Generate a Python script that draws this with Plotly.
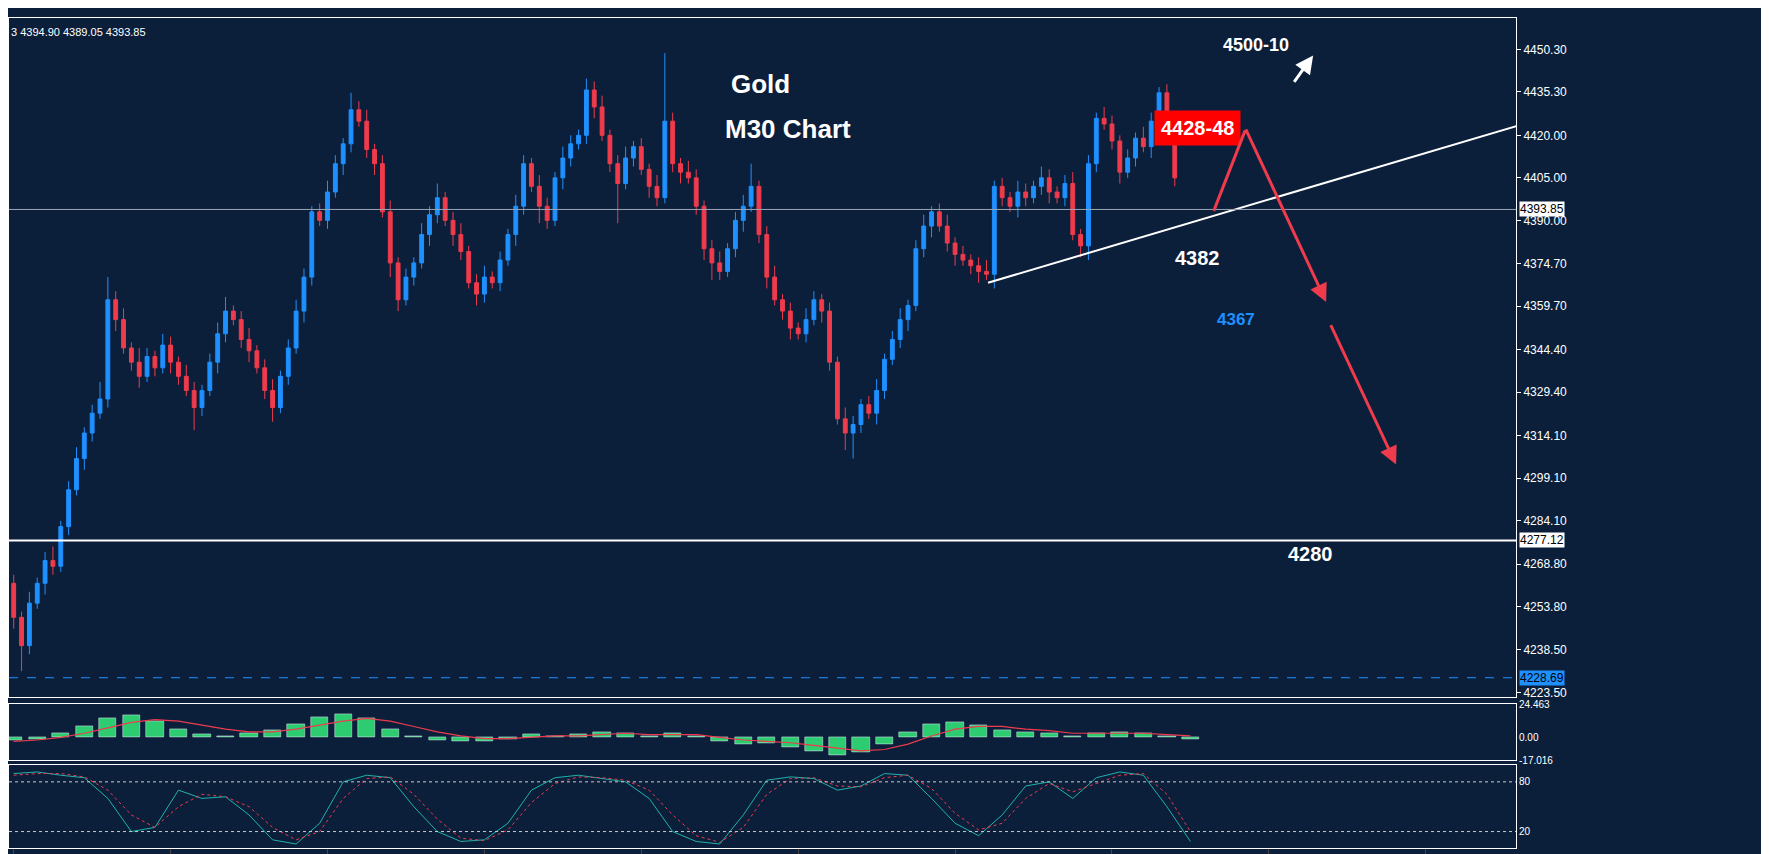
import plotly.graph_objects as go

# price data (M30 candles)
closes = [4250, 4240, 4255, 4262, 4270, 4268, 4282, 4295, 4306, 4315, 4322, 4327, 4362, 4355, 4345, 4340,
          4335, 4342, 4338, 4346, 4340, 4335, 4330, 4324, 4330, 4340, 4350, 4358, 4355, 4348, 4344, 4338,
          4330, 4324, 4335, 4345, 4358, 4370, 4393, 4390, 4400, 4410, 4417, 4429, 4425, 4415, 4410, 4393,
          4375, 4362, 4370, 4375, 4385, 4392, 4398, 4390, 4385, 4379, 4368, 4364, 4370, 4368, 4376, 4385,
          4395, 4410, 4402, 4395, 4390, 4405, 4412, 4417, 4420, 4436, 4430, 4420, 4410, 4403, 4412, 4416,
          4408, 4402, 4398, 4425, 4410, 4407, 4405, 4395, 4380, 4375, 4372, 4380, 4390, 4395, 4402, 4385,
          4370, 4362, 4358, 4352, 4350, 4355, 4362, 4358, 4340, 4320, 4315, 4318, 4325, 4322, 4330, 4341,
          4348, 4355, 4360, 4380, 4388, 4393, 4388, 4382, 4378, 4376, 4374, 4372, 4371, 4402, 4398, 4395,
          4400, 4398, 4402, 4405, 4400, 4398, 4403, 4385, 4381, 4410, 4426, 4424, 4418, 4407, 4412, 4419,
          4416, 4425, 4435, 4420, 4405, 4395, 4393.85]
first_open = 4262
wick_up = [3, 2, 4, 2, 3, 5, 2, 3, 4, 2, 3, 6, 8, 3, 4, 2, 5, 3, 2, 4, 3, 2, 4, 3, 2, 3, 4, 5, 2, 3, 4, 2,
           3, 4, 2, 3, 4, 3, 2, 3, 4, 3, 2, 6, 3, 4, 2, 3, 4, 2, 3, 2, 4, 3, 5, 2, 3, 4, 2, 3, 4, 2,
           3, 2, 4, 3, 2, 4, 3, 2, 4, 3, 2, 4, 3, 4, 2, 3, 4, 2, 3, 2, 4, 24, 3, 2, 4, 3, 2, 3, 4, 2,
           3, 4, 8, 2, 3, 4, 2, 3, 2, 4, 3, 2, 3, 2, 4, 3, 2, 3, 4, 2, 3, 4, 2, 3, 4, 2, 3, 4, 2, 3,
           2, 3, 4, 2, 3, 2, 4, 3, 2, 4, 3, 2, 3, 4, 2, 3, 2, 4, 3, 2, 3, 2, 4, 3, 2, 3, 2]
wick_dn = [4, 9, 3, 2, 4, 3, 2, 3, 2, 4, 3, 2, 3, 4, 2, 3, 4, 2, 3, 2, 4, 3, 2, 8, 3, 2, 4, 3, 2, 3, 4, 2,
           3, 5, 2, 3, 2, 4, 3, 2, 3, 2, 4, 3, 2, 3, 4, 2, 5, 4, 2, 3, 2, 4, 3, 2, 4, 3, 2, 4, 3, 2,
           3, 2, 4, 3, 2, 6, 3, 2, 4, 3, 2, 3, 4, 2, 3, 14, 2, 3, 2, 4, 3, 2, 3, 4, 2, 3, 4, 6, 3, 2,
           3, 4, 2, 3, 4, 2, 3, 4, 2, 3, 2, 4, 3, 2, 6, 9, 3, 2, 4, 3, 2, 3, 4, 2, 3, 4, 2, 3, 4, 2,
           3, 4, 2, 5, 3, 2, 4, 3, 2, 3, 4, 2, 3, 2, 4, 5, 3, 2, 3, 4, 2, 3, 2, 4, 3, 2, 3, 2, 4, 3, 2]

price_ticks = [4450.30, 4435.30, 4420.00, 4405.00, 4390.00, 4374.70, 4359.70, 4344.40, 4329.40,
               4314.10, 4299.10, 4284.10, 4268.80, 4253.80, 4238.50, 4223.50]
last_price = 4393.85
support_price = 4277.12
low_price = 4228.69
trend_x = [124.2, 192.1]
trend_y = [4368, 4423.7]

# indicators, one value every 3 candles
ind_x = list(range(0, 151, 3))
macd_hist = [-2, -1, 3, 8, 14, 16, 12, 6, 2, 1, 3, 5, 10, 15, 17, 14, 6, 1, -2, -3, -3, -1, 2, 1, 2, 4,
             3, 1, 3, 1, -3, -5, -4, -7, -10, -13, -11, -5, 4, 10, 11, 9, 5, 4, 3, 1, 3, 4, 3, 1, -1]
macd_signal = [-3, -2, 0, 3, 7, 11, 13, 12, 9, 6, 4, 4, 6, 9, 12, 14, 12, 8, 4, 1, -1, -1, 0, 1, 1, 2,
               3, 2, 2, 2, 0, -2, -3, -4, -6, -8, -10, -9, -5, 1, 6, 8, 8, 6, 5, 3, 3, 3, 3, 2, 1]
stoch_k = [90, 92, 88, 85, 60, 20, 25, 70, 60, 62, 40, 10, 5, 30, 80, 88, 85, 50, 20, 8, 10, 30, 70, 85,
           88, 84, 80, 60, 20, 8, 5, 40, 82, 86, 84, 70, 75, 90, 88, 60, 30, 15, 40, 75, 80, 60, 85, 92,
           88, 50, 8]
stoch_d = [88, 90, 90, 86, 70, 40, 25, 50, 65, 62, 50, 25, 10, 20, 60, 84, 86, 65, 35, 12, 9, 22, 55, 78,
           86, 85, 82, 70, 40, 15, 7, 25, 65, 84, 85, 75, 74, 85, 88, 72, 42, 22, 30, 60, 78, 68, 78, 88,
           90, 65, 20]

opens = [first_open] + closes[:-1]
highs = [max(o, c) + w for o, c, w in zip(opens, closes, wick_up)]
lows = [min(o, c) - w for o, c, w in zip(opens, closes, wick_dn)]
idx = list(range(len(closes)))

BG = "#0b1f3b"
BLUE = "#1e90ff"
RED = "#ef3b4c"
W = 1508.0
H = 854.0

def px(x):
    return x / W

def py(y):
    return 1 - y / H

fig = go.Figure()
fig.add_trace(go.Candlestick(
    x=idx, open=opens, high=highs, low=lows, close=closes,
    increasing=dict(line=dict(color=BLUE, width=1), fillcolor=BLUE),
    decreasing=dict(line=dict(color=RED, width=1), fillcolor=RED),
    whiskerwidth=0, showlegend=False, xaxis="x", yaxis="y"))
fig.add_trace(go.Scatter(x=trend_x, y=trend_y, mode="lines", line=dict(color="white", width=2),
                         showlegend=False, xaxis="x", yaxis="y"))

fig.add_trace(go.Bar(x=ind_x, y=macd_hist, marker_color="#2ecc71", width=2.2, showlegend=False,
                     xaxis="x2", yaxis="y2"))
fig.add_trace(go.Scatter(x=ind_x, y=macd_signal, mode="lines", line=dict(color=RED, width=1.2),
                         showlegend=False, xaxis="x2", yaxis="y2"))
fig.add_trace(go.Scatter(x=ind_x, y=stoch_k, mode="lines", line=dict(color="#20b2aa", width=1),
                         showlegend=False, xaxis="x3", yaxis="y3"))
fig.add_trace(go.Scatter(x=ind_x, y=stoch_d, mode="lines", line=dict(color=RED, width=1, dash="dot"),
                         showlegend=False, xaxis="x3", yaxis="y3"))

xr = [-0.6, 191.5]
axis_common = dict(showgrid=False, zeroline=False, showline=True, mirror=True, linecolor="white",
                   linewidth=1)
tf = dict(color="white", size=12, family="Liberation Sans")
tf_small = dict(color="white", size=10, family="Liberation Sans")
fig.update_layout(
    width=1769, height=854,
    margin=dict(l=0, r=261, t=0, b=0),
    paper_bgcolor=BG, plot_bgcolor=BG,
    font=dict(family="Liberation Sans", color="white"),
    bargap=0,
    xaxis=dict(range=xr, showticklabels=False, rangeslider=dict(visible=False), anchor="y", **axis_common),
    yaxis=dict(domain=[py(693), py(4)], range=[4221.8, 4461.4], side="right", tickvals=price_ticks,
               ticktext=["%.2f" % v for v in price_ticks], ticks="outside", ticklen=4,
               tickcolor="white", tickfont=tf, anchor="x", **axis_common),
    xaxis2=dict(range=xr, showticklabels=False, anchor="y2", **axis_common),
    yaxis2=dict(domain=[py(757), py(700)], range=[-17.016, 24.463], side="right",
                tickvals=[24.463, 0, -17.016], ticktext=["24.463", "0.00", "-17.016"], anchor="x2",
                tickfont=tf_small, **axis_common),
    xaxis3=dict(range=xr, showticklabels=False, ticks="outside", anchor="y3", **axis_common),
    yaxis3=dict(domain=[py(846), py(762)], range=[0, 100], side="right", tickvals=[80, 20],
                anchor="x3", tickfont=tf_small, **axis_common),
)

# horizontal levels
fig.add_shape(type="line", xref="x", yref="y", x0=xr[0], x1=xr[1], y0=last_price, y1=last_price,
              line=dict(color="#9aa5b5", width=1))
fig.add_shape(type="line", xref="x", yref="y", x0=xr[0], x1=xr[1], y0=support_price, y1=support_price,
              line=dict(color="white", width=2))
fig.add_shape(type="line", xref="x", yref="y", x0=xr[0], x1=xr[1], y0=low_price, y1=low_price,
              line=dict(color=BLUE, width=1, dash="dash"))
for yy in [80, 20]:
    fig.add_shape(type="line", xref="x3", yref="y3", x0=xr[0], x1=xr[1], y0=yy, y1=yy,
                  line=dict(color="#cccccc", width=1, dash="dot"))

for val, bg, fg in [(last_price, "white", "black"), (support_price, "white", "black"), (low_price, BLUE, "black")]:
    fig.add_annotation(xref="paper", yref="y", x=1.0, y=val, xanchor="left", text="%.2f" % val,
                       showarrow=False, bgcolor=bg, font=dict(color=fg, size=12), xshift=3, borderpad=0)

texts = [
    ("Gold", 752, 55, 26, "white", None),
    ("M30 Chart", 780, 100, 26, "white", None),
    ("4500-10", 1282, 20, 18, "white", None),
    ("4428-48", 1233, 97, 20, "white", "#ff0000"),
    ("4382", 1213, 235, 20, "white", None),
    ("4367", 1248, 310, 17, BLUE, None),
    ("4280", 1326, 548, 20, "white", None),
]
for t, x, y, s, c, bg in texts:
    fig.add_annotation(xref="paper", yref="paper", x=px(x), y=py(y), text="<b>%s</b>" % t, showarrow=False,
                       font=dict(family="Liberation Sans", color=c, size=s), bgcolor=bg,
                       borderpad=6 if bg else 0)
fig.add_annotation(xref="paper", yref="paper", x=0, y=py(10), xanchor="left",
                   text="3 4394.90 4389.05 4393.85", showarrow=False, font=dict(color="white", size=11))

# hand-drawn arrows
arrows = [
    (1237, 118, 1205, 200, 0, RED),
    (1318, 292, 1237, 118, 2, RED),
    (1388, 457, 1322, 316, 2, RED),
    (1305, 42, 1285, 70, 2, "white"),
]
for x1, y1, x0, y0, head, col in arrows:
    fig.add_annotation(xref="paper", yref="paper", x=px(x1), y=py(y1), ax=x0 - x1, ay=y0 - y1,
                       text="", showarrow=True, arrowhead=head, arrowwidth=3, arrowcolor=col,
                       arrowsize=1.2)

fig.write_html("out.html")
